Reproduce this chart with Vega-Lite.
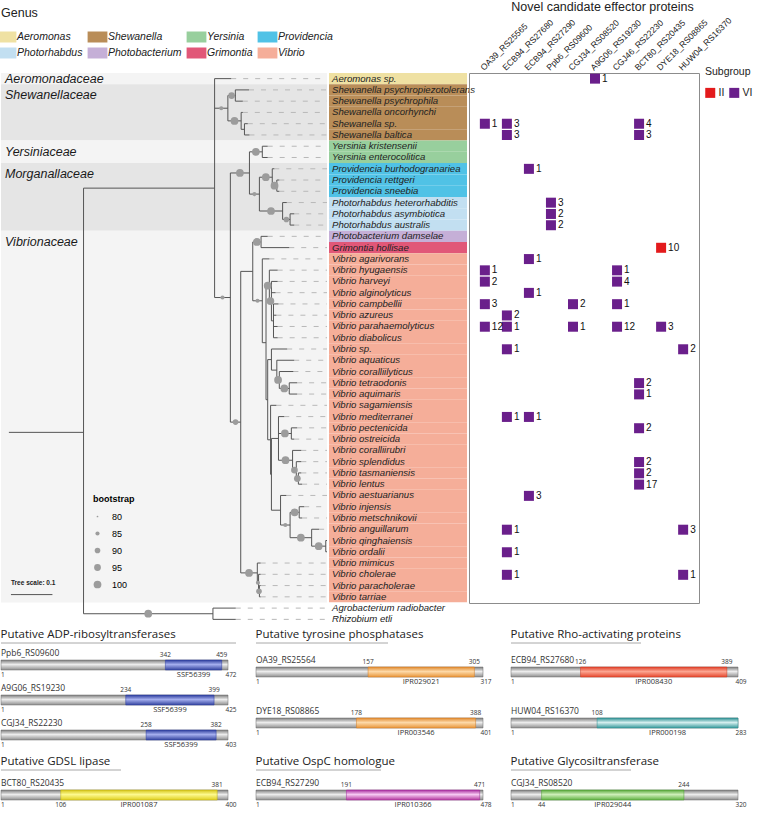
{
"$schema": "https://vega.github.io/schema/vega-lite/v6.json",
"padding": {"left": 0, "top": 0, "right": 0, "bottom": 0},
"config": {"view": {"stroke": null}, "font": "Liberation Sans"},
"datasets": {
"families": [
{"family": "Aeromonadaceae", "top": 0.5, "bottom": 1.5},
{"family": "Shewanellaceae", "top": 1.5, "bottom": 6.5},
{"family": "Yersiniaceae", "top": 6.5, "bottom": 8.5},
{"family": "Morganallaceae", "top": 8.5, "bottom": 14.5},
{"family": "Vibrionaceae", "top": 14.5, "bottom": 47.5}
],
"tree": [
{"name": "Aeromonas sp.", "genus": "Aeromonas", "y": 1, "x": 0.536, "px": 0.496},
{"name": "Shewanella psychropiezotolerans", "genus": "Shewanella", "y": 2, "x": 0.579, "px": 0.546},
{"name": "Shewanella psychrophila", "genus": "Shewanella", "y": 3, "x": 0.564, "px": 0.546},
{"name": "Shewanella oncorhynchi", "genus": "Shewanella", "y": 4, "x": 0.564, "px": 0.560},
{"name": "Shewanella sp.", "genus": "Shewanella", "y": 5, "x": 0.576, "px": 0.568},
{"name": "Shewanella baltica", "genus": "Shewanella", "y": 6, "x": 0.580, "px": 0.568},
{"name": "Yersinia kristensenii", "genus": "Yersinia", "y": 7, "x": 0.624, "px": 0.611},
{"name": "Yersinia enterocolitica", "genus": "Yersinia", "y": 8, "x": 0.624, "px": 0.611},
{"name": "Providencia burhodogranariea", "genus": "Providencia", "y": 9, "x": 0.640, "px": 0.635},
{"name": "Providencia rettgeri", "genus": "Providencia", "y": 10, "x": 0.652, "px": 0.646},
{"name": "Providencia sneebia", "genus": "Providencia", "y": 11, "x": 0.652, "px": 0.646},
{"name": "Photorhabdus heterorhabditis", "genus": "Photorhabdus", "y": 12, "x": 0.670, "px": 0.660},
{"name": "Photorhabdus asymbiotica", "genus": "Photorhabdus", "y": 13, "x": 0.688, "px": 0.678},
{"name": "Photorhabdus australis", "genus": "Photorhabdus", "y": 14, "x": 0.688, "px": 0.678},
{"name": "Photobacterium damselae", "genus": "Photobacterium", "y": 15, "x": 0.624, "px": 0.608},
{"name": "Grimontia hollisae", "genus": "Grimontia", "y": 16, "x": 0.676, "px": 0.608},
{"name": "Vibrio agarivorans", "genus": "Vibrio", "y": 17, "x": 0.628, "px": 0.611},
{"name": "Vibrio hyugaensis", "genus": "Vibrio", "y": 18, "x": 0.648, "px": 0.628},
{"name": "Vibrio harveyi", "genus": "Vibrio", "y": 19, "x": 0.648, "px": 0.633},
{"name": "Vibrio alginolyticus", "genus": "Vibrio", "y": 20, "x": 0.643, "px": 0.633},
{"name": "Vibrio campbellii", "genus": "Vibrio", "y": 21, "x": 0.650, "px": 0.638},
{"name": "Vibrio azureus", "genus": "Vibrio", "y": 22, "x": 0.645, "px": 0.638},
{"name": "Vibrio parahaemolyticus", "genus": "Vibrio", "y": 23, "x": 0.648, "px": 0.638},
{"name": "Vibrio diabolicus", "genus": "Vibrio", "y": 24, "x": 0.648, "px": 0.638},
{"name": "Vibrio sp.", "genus": "Vibrio", "y": 25, "x": 0.671, "px": 0.633},
{"name": "Vibrio aquaticus", "genus": "Vibrio", "y": 26, "x": 0.688, "px": 0.646},
{"name": "Vibrio coralliilyticus", "genus": "Vibrio", "y": 27, "x": 0.686, "px": 0.652},
{"name": "Vibrio tetraodonis", "genus": "Vibrio", "y": 28, "x": 0.695, "px": 0.676},
{"name": "Vibrio aquimaris", "genus": "Vibrio", "y": 29, "x": 0.695, "px": 0.676},
{"name": "Vibrio sagamiensis", "genus": "Vibrio", "y": 30, "x": 0.645, "px": 0.631},
{"name": "Vibrio mediterranei", "genus": "Vibrio", "y": 31, "x": 0.664, "px": 0.650},
{"name": "Vibrio pectenicida", "genus": "Vibrio", "y": 32, "x": 0.695, "px": 0.681},
{"name": "Vibrio ostreicida", "genus": "Vibrio", "y": 33, "x": 0.688, "px": 0.681},
{"name": "Vibrio coralliirubri", "genus": "Vibrio", "y": 34, "x": 0.705, "px": 0.684},
{"name": "Vibrio splendidus", "genus": "Vibrio", "y": 35, "x": 0.705, "px": 0.693},
{"name": "Vibrio tasmaniensis", "genus": "Vibrio", "y": 36, "x": 0.705, "px": 0.698},
{"name": "Vibrio lentus", "genus": "Vibrio", "y": 37, "x": 0.707, "px": 0.698},
{"name": "Vibrio aestuarianus", "genus": "Vibrio", "y": 38, "x": 0.669, "px": 0.655},
{"name": "Vibrio injensis", "genus": "Vibrio", "y": 39, "x": 0.712, "px": 0.700},
{"name": "Vibrio metschnikovii", "genus": "Vibrio", "y": 40, "x": 0.707, "px": 0.700},
{"name": "Vibrio anguillarum", "genus": "Vibrio", "y": 41, "x": 0.748, "px": 0.730},
{"name": "Vibrio qinghaiensis", "genus": "Vibrio", "y": 42, "x": 0.767, "px": 0.764},
{"name": "Vibrio ordalii", "genus": "Vibrio", "y": 43, "x": 0.767, "px": 0.764},
{"name": "Vibrio mimicus", "genus": "Vibrio", "y": 44, "x": 0.607, "px": 0.599},
{"name": "Vibrio cholerae", "genus": "Vibrio", "y": 45, "x": 0.607, "px": 0.602},
{"name": "Vibrio paracholerae", "genus": "Vibrio", "y": 46, "x": 0.607, "px": 0.604},
{"name": "Vibrio tarriae", "genus": "Vibrio", "y": 47, "x": 0.607, "px": 0.604},
{"name": "Agrobacterium radiobacter", "genus": "Agrobacterium", "y": 48, "x": 0.547, "px": 0.492},
{"name": "Rhizobium etli", "genus": "Rhizobium", "y": 49, "x": 0.547, "px": 0.492},
{"node": "R0", "x": 0.180, "px": 0, "y": 32.4, "y1": 10.72, "y2": 48.5},
{"node": "G", "x": 0.496, "px": 0.180, "y": 10.72, "y1": 1, "y2": 20.43},
{"node": "O", "x": 0.492, "px": 0.180, "y": 48.5, "y1": 48, "y2": 49, "bs": 100},
{"node": "S", "x": 0.528, "px": 0.496, "y": 3.625, "y1": 2.5, "y2": 4.75, "bs": 85},
{"node": "SA", "x": 0.546, "px": 0.528, "y": 2.5, "y1": 2, "y2": 3, "bs": 95},
{"node": "SB", "x": 0.560, "px": 0.528, "y": 4.75, "y1": 4, "y2": 5.5, "bs": 100},
{"node": "SB2", "x": 0.568, "px": 0.560, "y": 5.5, "y1": 5, "y2": 6},
{"node": "EV", "x": 0.534, "px": 0.496, "y": 20.43, "y1": 9.375, "y2": 31.49, "bs": 85},
{"node": "E", "x": 0.580, "px": 0.534, "y": 9.375, "y1": 7.5, "y2": 11.25, "bs": 100},
{"node": "Y", "x": 0.611, "px": 0.580, "y": 7.5, "y1": 7, "y2": 8, "bs": 100},
{"node": "M", "x": 0.604, "px": 0.580, "y": 11.25, "y1": 9.75, "y2": 12.75, "bs": 85},
{"node": "P", "x": 0.635, "px": 0.604, "y": 9.75, "y1": 9, "y2": 10.5, "bs": 100},
{"node": "P2", "x": 0.646, "px": 0.635, "y": 10.5, "y1": 10, "y2": 11, "bs": 100},
{"node": "Ph", "x": 0.660, "px": 0.604, "y": 12.75, "y1": 12, "y2": 13.5, "bs": 100},
{"node": "Ph2", "x": 0.678, "px": 0.660, "y": 13.5, "y1": 13, "y2": 14, "bs": 90},
{"node": "V", "x": 0.559, "px": 0.534, "y": 31.49, "y1": 18.11, "y2": 44.875, "bs": 90},
{"node": "VA", "x": 0.588, "px": 0.559, "y": 18.11, "y1": 15.5, "y2": 20.72},
{"node": "PG", "x": 0.608, "px": 0.588, "y": 15.5, "y1": 15, "y2": 16, "bs": 100},
{"node": "VB", "x": 0.611, "px": 0.588, "y": 20.72, "y1": 17, "y2": 24.44, "bs": 85},
{"node": "VC", "x": 0.620, "px": 0.611, "y": 24.44, "y1": 19.375, "y2": 29.5},
{"node": "H", "x": 0.628, "px": 0.620, "y": 19.375, "y1": 18, "y2": 20.75, "bs": 100},
{"node": "H1", "x": 0.633, "px": 0.628, "y": 20.75, "y1": 19, "y2": 22.5, "bs": 100},
{"node": "H3", "x": 0.638, "px": 0.633, "y": 22.5, "y1": 21, "y2": 24},
{"node": "VD", "x": 0.624, "px": 0.620, "y": 29.5, "y1": 25.94, "y2": 33.06},
{"node": "K", "x": 0.633, "px": 0.624, "y": 25.94, "y1": 25, "y2": 26.875},
{"node": "K1", "x": 0.646, "px": 0.633, "y": 26.875, "y1": 26, "y2": 27.75},
{"node": "K2", "x": 0.652, "px": 0.646, "y": 27.75, "y1": 27, "y2": 28.5, "bs": 100},
{"node": "K3", "x": 0.676, "px": 0.652, "y": 28.5, "y1": 28, "y2": 29, "bs": 100},
{"node": "VE", "x": 0.631, "px": 0.624, "y": 33.06, "y1": 30, "y2": 36.125},
{"node": "VF", "x": 0.633, "px": 0.631, "y": 36.125, "y1": 32.94, "y2": 39.31},
{"node": "MS", "x": 0.650, "px": 0.633, "y": 32.94, "y1": 31, "y2": 34.875},
{"node": "PO", "x": 0.681, "px": 0.650, "y": 32.5, "y1": 32, "y2": 33, "bs": 100},
{"node": "SP", "x": 0.684, "px": 0.650, "y": 34.875, "y1": 34, "y2": 35.75, "bs": 100},
{"node": "SP1", "x": 0.693, "px": 0.684, "y": 35.75, "y1": 35, "y2": 36.5, "bs": 95},
{"node": "SP2", "x": 0.698, "px": 0.693, "y": 36.5, "y1": 36, "y2": 37, "bs": 95},
{"node": "AQ", "x": 0.655, "px": 0.633, "y": 39.31, "y1": 38, "y2": 40.625},
{"node": "AQ1", "x": 0.678, "px": 0.655, "y": 40.625, "y1": 39.5, "y2": 41.75, "bs": 85},
{"node": "IM", "x": 0.700, "px": 0.678, "y": 39.5, "y1": 39, "y2": 40, "bs": 100},
{"node": "ANG", "x": 0.730, "px": 0.678, "y": 41.75, "y1": 41, "y2": 42.5, "bs": 100},
{"node": "QO", "x": 0.764, "px": 0.730, "y": 42.5, "y1": 42, "y2": 43, "bs": 100},
{"node": "C", "x": 0.599, "px": 0.559, "y": 44.875, "y1": 44, "y2": 45.75, "bs": 100},
{"node": "C2", "x": 0.602, "px": 0.599, "y": 45.75, "y1": 45, "y2": 46.5, "bs": 85},
{"node": "C3", "x": 0.604, "px": 0.602, "y": 46.5, "y1": 46, "y2": 47, "bs": 90}
],
"matrix": [
{"species": "Aeromonas sp.", "protein": "A9G06_RS19230", "count": 1, "subgroup": "VI"},
{"species": "Shewanella sp.", "protein": "OA39_RS25565", "count": 1, "subgroup": "VI"},
{"species": "Shewanella sp.", "protein": "ECB94_RS27680", "count": 3, "subgroup": "VI"},
{"species": "Shewanella sp.", "protein": "BCT80_RS20435", "count": 4, "subgroup": "VI"},
{"species": "Shewanella baltica", "protein": "ECB94_RS27680", "count": 3, "subgroup": "VI"},
{"species": "Shewanella baltica", "protein": "BCT80_RS20435", "count": 3, "subgroup": "VI"},
{"species": "Providencia burhodogranariea", "protein": "ECB94_RS27290", "count": 1, "subgroup": "VI"},
{"species": "Photorhabdus heterorhabditis", "protein": "Ppb6_RS09600", "count": 3, "subgroup": "VI"},
{"species": "Photorhabdus asymbiotica", "protein": "Ppb6_RS09600", "count": 2, "subgroup": "VI"},
{"species": "Photorhabdus australis", "protein": "Ppb6_RS09600", "count": 2, "subgroup": "VI"},
{"species": "Grimontia hollisae", "protein": "DYE18_RS08865", "count": 10, "subgroup": "II"},
{"species": "Vibrio agarivorans", "protein": "ECB94_RS27290", "count": 1, "subgroup": "VI"},
{"species": "Vibrio hyugaensis", "protein": "OA39_RS25565", "count": 1, "subgroup": "VI"},
{"species": "Vibrio hyugaensis", "protein": "CGJ46_RS22230", "count": 1, "subgroup": "VI"},
{"species": "Vibrio harveyi", "protein": "OA39_RS25565", "count": 2, "subgroup": "VI"},
{"species": "Vibrio harveyi", "protein": "CGJ46_RS22230", "count": 4, "subgroup": "VI"},
{"species": "Vibrio alginolyticus", "protein": "ECB94_RS27290", "count": 1, "subgroup": "VI"},
{"species": "Vibrio campbellii", "protein": "OA39_RS25565", "count": 3, "subgroup": "VI"},
{"species": "Vibrio campbellii", "protein": "CGJ34_RS08520", "count": 2, "subgroup": "VI"},
{"species": "Vibrio campbellii", "protein": "CGJ46_RS22230", "count": 1, "subgroup": "VI"},
{"species": "Vibrio azureus", "protein": "ECB94_RS27680", "count": 2, "subgroup": "VI"},
{"species": "Vibrio parahaemolyticus", "protein": "OA39_RS25565", "count": 12, "subgroup": "VI"},
{"species": "Vibrio parahaemolyticus", "protein": "ECB94_RS27680", "count": 1, "subgroup": "VI"},
{"species": "Vibrio parahaemolyticus", "protein": "CGJ34_RS08520", "count": 1, "subgroup": "VI"},
{"species": "Vibrio parahaemolyticus", "protein": "CGJ46_RS22230", "count": 12, "subgroup": "VI"},
{"species": "Vibrio parahaemolyticus", "protein": "DYE18_RS08865", "count": 3, "subgroup": "VI"},
{"species": "Vibrio sp.", "protein": "ECB94_RS27680", "count": 1, "subgroup": "VI"},
{"species": "Vibrio sp.", "protein": "HUW04_RS16370", "count": 2, "subgroup": "VI"},
{"species": "Vibrio tetraodonis", "protein": "BCT80_RS20435", "count": 2, "subgroup": "VI"},
{"species": "Vibrio aquimaris", "protein": "BCT80_RS20435", "count": 1, "subgroup": "VI"},
{"species": "Vibrio mediterranei", "protein": "ECB94_RS27680", "count": 1, "subgroup": "VI"},
{"species": "Vibrio mediterranei", "protein": "ECB94_RS27290", "count": 1, "subgroup": "VI"},
{"species": "Vibrio pectenicida", "protein": "BCT80_RS20435", "count": 2, "subgroup": "VI"},
{"species": "Vibrio splendidus", "protein": "BCT80_RS20435", "count": 2, "subgroup": "VI"},
{"species": "Vibrio tasmaniensis", "protein": "BCT80_RS20435", "count": 2, "subgroup": "VI"},
{"species": "Vibrio lentus", "protein": "BCT80_RS20435", "count": 17, "subgroup": "VI"},
{"species": "Vibrio aestuarianus", "protein": "ECB94_RS27290", "count": 3, "subgroup": "VI"},
{"species": "Vibrio anguillarum", "protein": "ECB94_RS27680", "count": 1, "subgroup": "VI"},
{"species": "Vibrio anguillarum", "protein": "HUW04_RS16370", "count": 3, "subgroup": "VI"},
{"species": "Vibrio ordalii", "protein": "ECB94_RS27680", "count": 1, "subgroup": "VI"},
{"species": "Vibrio cholerae", "protein": "ECB94_RS27680", "count": 1, "subgroup": "VI"},
{"species": "Vibrio cholerae", "protein": "HUW04_RS16370", "count": 1, "subgroup": "VI"}
]
},
"spacing": 3,
"vconcat": [
{
"hconcat": [
{
"width": 326, "height": 552,
"data": {"name": "tree"},
"layer": [
{"data": {"name": "families"}, "mark": {"type": "rect"},
 "encoding": {"x": {"value": 0}, "x2": {"value": "width"},
  "y": {"field": "top", "type": "quantitative", "scale": {"domain": [0.5, 49.5], "reverse": true, "nice": false, "zero": false}, "axis": null},
  "y2": {"field": "bottom"},
  "fill": {"field": "family", "type": "nominal", "scale": {"domain": ["Aeromonadaceae", "Shewanellaceae", "Yersiniaceae", "Morganallaceae", "Vibrionaceae"], "range": ["#f4f4f4", "#e5e5e5", "#f4f4f4", "#e5e5e5", "#f4f4f4"]}, "legend": null}}},
{"data": {"name": "families"}, "transform": [{"filter": "datum.bottom - datum.top > 1"}],
 "mark": {"type": "text", "align": "left", "baseline": "top", "dx": 4, "dy": 5, "fontSize": 12.5, "fontStyle": "italic", "color": "#1a1a1a"},
 "encoding": {"x": {"value": 0}, "y": {"field": "top", "type": "quantitative"}, "text": {"field": "family", "type": "nominal"}}},
{"data": {"name": "families"}, "transform": [{"filter": "datum.bottom - datum.top <= 1"}],
 "mark": {"type": "text", "align": "left", "baseline": "top", "dx": 4, "dy": 0, "fontSize": 12.5, "fontStyle": "italic", "color": "#1a1a1a"},
 "encoding": {"x": {"value": 0}, "y": {"field": "top", "type": "quantitative"}, "text": {"field": "family", "type": "nominal"}}},
{"transform": [{"filter": "isValid(datum.name)"}],
 "mark": {"type": "rule", "color": "#b8b8b8", "strokeDash": [5, 7], "strokeWidth": 1},
 "encoding": {"x": {"field": "x", "type": "quantitative", "scale": {"domain": [-0.019, 0.767], "nice": false, "zero": false}, "axis": null},
  "x2": {"value": "width"}, "y": {"field": "y", "type": "quantitative"}}},
{"mark": {"type": "rule", "color": "#555555", "strokeWidth": 1},
 "encoding": {"x": {"field": "px", "type": "quantitative"}, "x2": {"field": "x"}, "y": {"field": "y", "type": "quantitative"}}},
{"transform": [{"filter": "isValid(datum.y1)"}],
 "mark": {"type": "rule", "color": "#555555", "strokeWidth": 1},
 "encoding": {"x": {"field": "x", "type": "quantitative"}, "y": {"field": "y1", "type": "quantitative"}, "y2": {"field": "y2"}}},
{"transform": [{"filter": "isValid(datum.bs)"}, {"fold": ["px", "x"], "as": ["end", "pos"]}, {"aggregate": [{"op": "mean", "field": "pos", "as": "mid"}], "groupby": ["node", "y", "bs"]}],
 "mark": {"type": "circle", "color": "#9c9c9c", "opacity": 1},
 "encoding": {"x": {"field": "mid", "type": "quantitative"},
  "y": {"field": "y", "type": "quantitative"},
  "size": {"field": "bs", "type": "quantitative", "scale": {"type": "linear", "domain": [80, 100], "range": [3, 60], "zero": false},
   "legend": {"title": "bootstrap", "values": [80, 85, 90, 95, 100], "type": "symbol", "orient": "none", "legendX": 92, "legendY": 422, "titleFontSize": 9, "titleFontWeight": "bold", "labelFontSize": 9, "symbolFillColor": "#9c9c9c", "symbolStrokeWidth": 0, "symbolType": "circle", "rowPadding": 7, "labelOffset": 10, "titlePadding": 8}}}},
{"data": {"values": [{"label": "Tree scale: 0.1", "from": 0.005, "to": 0.105, "row": 46.8, "labelRow": 45.8}]},
 "mark": {"type": "text", "align": "left", "fontSize": 6.5, "fontWeight": "bold", "color": "#222"},
 "encoding": {"x": {"field": "from", "type": "quantitative"}, "y": {"field": "labelRow", "type": "quantitative"}, "text": {"field": "label", "type": "nominal"}}},
{"data": {"values": [{"label": "Tree scale: 0.1", "from": 0.005, "to": 0.105, "row": 46.8, "labelRow": 45.8}]},
 "mark": {"type": "rule", "color": "#555555", "strokeWidth": 1},
 "encoding": {"x": {"field": "from", "type": "quantitative"}, "x2": {"field": "to"}, "y": {"field": "row", "type": "quantitative"}}}
]
},
{
"width": 138, "height": 552,
"data": {"name": "tree"},
"transform": [{"filter": "isValid(datum.name)"}],
"encoding": {"y": {"field": "name", "type": "nominal", "sort": {"field": "y", "op": "min"}, "scale": {"paddingInner": 0, "paddingOuter": 0}, "axis": null}},
"layer": [
{"mark": {"type": "rect"},
 "encoding": {"x": {"value": 0}, "x2": {"value": "width"},
  "fill": {"field": "genus", "type": "nominal",
   "scale": {"domain": ["Aeromonas", "Shewanella", "Yersinia", "Providencia", "Photorhabdus", "Photobacterium", "Grimontia", "Vibrio", "Agrobacterium", "Rhizobium"],
    "range": ["#efe1a3", "#b98d58", "#98cf9d", "#50c2e6", "#c2dff1", "#c5afd7", "#e15778", "#f5ae99", "#ffffff", "#ffffff"]},
   "legend": {"title": "Genus", "values": ["Aeromonas", "Shewanella", "Yersinia", "Providencia", "Photorhabdus", "Photobacterium", "Grimontia", "Vibrio"],
    "orient": "none", "legendX": -328, "legendY": -66, "columns": 4, "direction": "horizontal",
    "symbolType": "M-1.8,-1H1.8V1H-1.8Z", "symbolSize": 121, "symbolStrokeWidth": 0,
    "labelFontStyle": "italic", "labelFontSize": 10.5, "labelColor": "#222", "titleFontSize": 12.5, "titleFontWeight": "normal", "titleColor": "#222",
    "titlePadding": 12, "rowPadding": 5, "columnPadding": 4, "labelOffset": 5}}}},
{"mark": {"type": "text", "align": "left", "dx": 3, "fontSize": 9.6, "fontStyle": "italic", "color": "#222"},
 "encoding": {"x": {"value": 0}, "text": {"field": "name", "type": "nominal"}}}
]
},
{
"width": 230, "height": 530,
"view": {"stroke": "#8c8c8c", "strokeWidth": 1},
"data": {"name": "matrix"},
"transform": [{"lookup": "species", "from": {"data": {"name": "tree"}, "key": "name", "fields": ["y"]}}],
"layer": [
{"mark": {"type": "square", "size": 100, "opacity": 1},
 "encoding": {
  "x": {"field": "protein", "type": "nominal",
   "scale": {"type": "point", "padding": 0.72, "domain": ["OA39_RS25565", "ECB94_RS27680", "ECB94_RS27290", "Ppb6_RS09600", "CGJ34_RS08520", "A9G06_RS19230", "CGJ46_RS22230", "BCT80_RS20435", "DYE18_RS08865", "HUW04_RS16370"]},
   "axis": {"orient": "top", "title": "Novel candidate effector proteins", "titleFontSize": 12.5, "titleFontWeight": "normal", "titleColor": "#222", "titlePadding": 2, "titleX": 133,
    "labelAngle": -45, "labelFontSize": 8.6, "labelColor": "#222", "labelPadding": 1, "ticks": false, "domain": false}},
  "y": {"field": "y", "type": "quantitative", "scale": {"domain": [0.5, 47.5], "reverse": true, "nice": false, "zero": false}, "axis": null},
  "color": {"field": "subgroup", "type": "nominal", "scale": {"domain": ["II", "VI"], "range": ["#e31a1c", "#6a1f8b"]},
   "legend": {"title": "Subgroup", "orient": "none", "legendX": 236, "legendY": -6, "direction": "horizontal", "symbolType": "square", "symbolSize": 100, "symbolStrokeWidth": 0,
    "titleFontSize": 10.5, "titleFontWeight": "normal", "titleColor": "#222", "labelFontSize": 10.5, "labelColor": "#222", "titlePadding": 10, "columnPadding": 4, "labelOffset": 3}}}},
{"mark": {"type": "text", "align": "left", "dx": 7, "fontSize": 10, "color": "#111"},
 "encoding": {"x": {"field": "protein", "type": "nominal"}, "y": {"field": "y", "type": "quantitative"}, "text": {"field": "count", "type": "quantitative"}}}
]
}
],
"spacing": 2, "bounds": "flush",
"resolve": {"scale": {"color": "independent", "fill": "independent", "size": "independent"}, "legend": {"color": "independent", "fill": "independent", "size": "independent"}}
},
{
"hconcat": [
{"spacing": 7, "vconcat": [
 {"spacing": 5, "vconcat": [
  {"width": 235, "height": 1, "data": {"values": [{"a": 0}]},
   "title": {"text": "Putative ADP-ribosyltransferases", "anchor": "start", "fontSize": 11.5, "font": "Open Sans", "fontWeight": "normal", "color": "#222", "offset": 2},
   "mark": {"type": "rule", "color": "#a8a8a8", "strokeWidth": 1}, "encoding": {"x": {"value": 0}, "x2": {"value": "width"}, "y": {"value": 0}}},
  {"width": 227, "height": 10,
   "data": {"values": [{"protein": "Ppb6_RS09600", "first": 1, "length": 472, "start": 342, "end": 459, "domain": "SSF56399"}]},
   "layer": [
    {"mark": {"type": "rect", "stroke": "#6a6a6a", "strokeWidth": 0.5, "fill": {"gradient": "linear", "x1": 0, "y1": 0, "x2": 0, "y2": 1, "stops": [{"offset": 0, "color": "#7d7d7d"}, {"offset": 0.45, "color": "#ececec"}, {"offset": 1, "color": "#8e8e8e"}]}},
     "encoding": {"x": {"field": "first", "type": "quantitative", "scale": {"zero": false, "nice": false}, "axis": null}, "x2": {"field": "length"}}},
    {"mark": {"type": "rect", "stroke": "#2c3c9c", "strokeWidth": 0.5, "fill": {"gradient": "linear", "x1": 0, "y1": 0, "x2": 0, "y2": 1, "stops": [{"offset": 0, "color": "#2c3c9c"}, {"offset": 0.45, "color": "#a4aeee"}, {"offset": 1, "color": "#34449f"}]}},
     "encoding": {"x": {"field": "start", "type": "quantitative", "axis": null}, "x2": {"field": "end"}}},
    {"mark": {"type": "text", "baseline": "bottom", "align": "left", "dy": -2, "fontSize": 8.5, "font": "Open Sans", "color": "#333"}, "encoding": {"x": {"field": "first", "type": "quantitative", "axis": null}, "y": {"value": 0}, "text": {"field": "protein", "type": "nominal"}}},
    {"mark": {"type": "text", "baseline": "bottom", "dy": -2, "fontSize": 6.5, "font": "Open Sans", "color": "#333"}, "encoding": {"x": {"field": "start", "type": "quantitative", "axis": null}, "y": {"value": 0}, "text": {"field": "start", "type": "quantitative"}}},
    {"mark": {"type": "text", "baseline": "bottom", "dy": -2, "fontSize": 6.5, "font": "Open Sans", "color": "#333"}, "encoding": {"x": {"field": "end", "type": "quantitative", "axis": null}, "y": {"value": 0}, "text": {"field": "end", "type": "quantitative"}}},
    {"mark": {"type": "text", "baseline": "top", "dy": 2, "align": "left", "fontSize": 6.5, "font": "Open Sans", "color": "#333"}, "encoding": {"x": {"field": "first", "type": "quantitative", "axis": null}, "y": {"value": 10}, "text": {"field": "first", "type": "quantitative"}}},
    {"mark": {"type": "text", "baseline": "top", "dy": 2, "dx": 3, "fontSize": 6.5, "font": "Open Sans", "color": "#333"}, "encoding": {"x": {"field": "length", "type": "quantitative", "axis": null}, "y": {"value": 10}, "text": {"field": "length", "type": "quantitative"}}},
    {"transform": [{"fold": ["start", "end"], "as": ["edge", "pos"]}, {"aggregate": [{"op": "mean", "field": "pos", "as": "mid"}], "groupby": ["domain"]}], "mark": {"type": "text", "baseline": "top", "dy": 1, "fontSize": 7.5, "font": "Open Sans", "color": "#333"}, "encoding": {"x": {"field": "mid", "type": "quantitative", "axis": null}, "y": {"value": 10}, "text": {"field": "domain", "type": "nominal"}}}
   ]},
  {"width": 227, "height": 10,
   "data": {"values": [{"protein": "A9G06_RS19230", "first": 1, "length": 425, "start": 234, "end": 399, "domain": "SSF56399"}]},
   "layer": [
    {"mark": {"type": "rect", "stroke": "#6a6a6a", "strokeWidth": 0.5, "fill": {"gradient": "linear", "x1": 0, "y1": 0, "x2": 0, "y2": 1, "stops": [{"offset": 0, "color": "#7d7d7d"}, {"offset": 0.45, "color": "#ececec"}, {"offset": 1, "color": "#8e8e8e"}]}},
     "encoding": {"x": {"field": "first", "type": "quantitative", "scale": {"zero": false, "nice": false}, "axis": null}, "x2": {"field": "length"}}},
    {"mark": {"type": "rect", "stroke": "#2c3c9c", "strokeWidth": 0.5, "fill": {"gradient": "linear", "x1": 0, "y1": 0, "x2": 0, "y2": 1, "stops": [{"offset": 0, "color": "#2c3c9c"}, {"offset": 0.45, "color": "#a4aeee"}, {"offset": 1, "color": "#34449f"}]}},
     "encoding": {"x": {"field": "start", "type": "quantitative", "axis": null}, "x2": {"field": "end"}}},
    {"mark": {"type": "text", "baseline": "bottom", "align": "left", "dy": -2, "fontSize": 8.5, "font": "Open Sans", "color": "#333"}, "encoding": {"x": {"field": "first", "type": "quantitative", "axis": null}, "y": {"value": 0}, "text": {"field": "protein", "type": "nominal"}}},
    {"mark": {"type": "text", "baseline": "bottom", "dy": -2, "fontSize": 6.5, "font": "Open Sans", "color": "#333"}, "encoding": {"x": {"field": "start", "type": "quantitative", "axis": null}, "y": {"value": 0}, "text": {"field": "start", "type": "quantitative"}}},
    {"mark": {"type": "text", "baseline": "bottom", "dy": -2, "fontSize": 6.5, "font": "Open Sans", "color": "#333"}, "encoding": {"x": {"field": "end", "type": "quantitative", "axis": null}, "y": {"value": 0}, "text": {"field": "end", "type": "quantitative"}}},
    {"mark": {"type": "text", "baseline": "top", "dy": 2, "align": "left", "fontSize": 6.5, "font": "Open Sans", "color": "#333"}, "encoding": {"x": {"field": "first", "type": "quantitative", "axis": null}, "y": {"value": 10}, "text": {"field": "first", "type": "quantitative"}}},
    {"mark": {"type": "text", "baseline": "top", "dy": 2, "dx": 3, "fontSize": 6.5, "font": "Open Sans", "color": "#333"}, "encoding": {"x": {"field": "length", "type": "quantitative", "axis": null}, "y": {"value": 10}, "text": {"field": "length", "type": "quantitative"}}},
    {"transform": [{"fold": ["start", "end"], "as": ["edge", "pos"]}, {"aggregate": [{"op": "mean", "field": "pos", "as": "mid"}], "groupby": ["domain"]}], "mark": {"type": "text", "baseline": "top", "dy": 1, "fontSize": 7.5, "font": "Open Sans", "color": "#333"}, "encoding": {"x": {"field": "mid", "type": "quantitative", "axis": null}, "y": {"value": 10}, "text": {"field": "domain", "type": "nominal"}}}
   ]},
  {"width": 227, "height": 10,
   "data": {"values": [{"protein": "CGJ34_RS22230", "first": 1, "length": 403, "start": 258, "end": 382, "domain": "SSF56399"}]},
   "layer": [
    {"mark": {"type": "rect", "stroke": "#6a6a6a", "strokeWidth": 0.5, "fill": {"gradient": "linear", "x1": 0, "y1": 0, "x2": 0, "y2": 1, "stops": [{"offset": 0, "color": "#7d7d7d"}, {"offset": 0.45, "color": "#ececec"}, {"offset": 1, "color": "#8e8e8e"}]}},
     "encoding": {"x": {"field": "first", "type": "quantitative", "scale": {"zero": false, "nice": false}, "axis": null}, "x2": {"field": "length"}}},
    {"mark": {"type": "rect", "stroke": "#2c3c9c", "strokeWidth": 0.5, "fill": {"gradient": "linear", "x1": 0, "y1": 0, "x2": 0, "y2": 1, "stops": [{"offset": 0, "color": "#2c3c9c"}, {"offset": 0.45, "color": "#a4aeee"}, {"offset": 1, "color": "#34449f"}]}},
     "encoding": {"x": {"field": "start", "type": "quantitative", "axis": null}, "x2": {"field": "end"}}},
    {"mark": {"type": "text", "baseline": "bottom", "align": "left", "dy": -2, "fontSize": 8.5, "font": "Open Sans", "color": "#333"}, "encoding": {"x": {"field": "first", "type": "quantitative", "axis": null}, "y": {"value": 0}, "text": {"field": "protein", "type": "nominal"}}},
    {"mark": {"type": "text", "baseline": "bottom", "dy": -2, "fontSize": 6.5, "font": "Open Sans", "color": "#333"}, "encoding": {"x": {"field": "start", "type": "quantitative", "axis": null}, "y": {"value": 0}, "text": {"field": "start", "type": "quantitative"}}},
    {"mark": {"type": "text", "baseline": "bottom", "dy": -2, "fontSize": 6.5, "font": "Open Sans", "color": "#333"}, "encoding": {"x": {"field": "end", "type": "quantitative", "axis": null}, "y": {"value": 0}, "text": {"field": "end", "type": "quantitative"}}},
    {"mark": {"type": "text", "baseline": "top", "dy": 2, "align": "left", "fontSize": 6.5, "font": "Open Sans", "color": "#333"}, "encoding": {"x": {"field": "first", "type": "quantitative", "axis": null}, "y": {"value": 10}, "text": {"field": "first", "type": "quantitative"}}},
    {"mark": {"type": "text", "baseline": "top", "dy": 2, "dx": 3, "fontSize": 6.5, "font": "Open Sans", "color": "#333"}, "encoding": {"x": {"field": "length", "type": "quantitative", "axis": null}, "y": {"value": 10}, "text": {"field": "length", "type": "quantitative"}}},
    {"transform": [{"fold": ["start", "end"], "as": ["edge", "pos"]}, {"aggregate": [{"op": "mean", "field": "pos", "as": "mid"}], "groupby": ["domain"]}], "mark": {"type": "text", "baseline": "top", "dy": 1, "fontSize": 7.5, "font": "Open Sans", "color": "#333"}, "encoding": {"x": {"field": "mid", "type": "quantitative", "axis": null}, "y": {"value": 10}, "text": {"field": "domain", "type": "nominal"}}}
   ]}
 ]},
 {"spacing": 8, "vconcat": [
  {"width": 120, "height": 1, "data": {"values": [{"a": 0}]},
   "title": {"text": "Putative GDSL lipase", "anchor": "start", "fontSize": 11.5, "font": "Open Sans", "fontWeight": "normal", "color": "#222", "offset": 2},
   "mark": {"type": "rule", "color": "#a8a8a8", "strokeWidth": 1}, "encoding": {"x": {"value": 0}, "x2": {"value": "width"}, "y": {"value": 0}}},
  {"width": 227, "height": 10,
   "data": {"values": [{"protein": "BCT80_RS20435", "first": 1, "length": 400, "start": 106, "end": 381, "domain": "IPR001087"}]},
   "layer": [
    {"mark": {"type": "rect", "stroke": "#6a6a6a", "strokeWidth": 0.5, "fill": {"gradient": "linear", "x1": 0, "y1": 0, "x2": 0, "y2": 1, "stops": [{"offset": 0, "color": "#7d7d7d"}, {"offset": 0.45, "color": "#ececec"}, {"offset": 1, "color": "#8e8e8e"}]}},
     "encoding": {"x": {"field": "first", "type": "quantitative", "scale": {"zero": false, "nice": false}, "axis": null}, "x2": {"field": "length"}}},
    {"mark": {"type": "rect", "stroke": "#b9aa10", "strokeWidth": 0.5, "fill": {"gradient": "linear", "x1": 0, "y1": 0, "x2": 0, "y2": 1, "stops": [{"offset": 0, "color": "#d6c618"}, {"offset": 0.45, "color": "#fdf98e"}, {"offset": 1, "color": "#e0d020"}]}},
     "encoding": {"x": {"field": "start", "type": "quantitative", "axis": null}, "x2": {"field": "end"}}},
    {"mark": {"type": "text", "baseline": "bottom", "align": "left", "dy": -2, "fontSize": 8.5, "font": "Open Sans", "color": "#333"}, "encoding": {"x": {"field": "first", "type": "quantitative", "axis": null}, "y": {"value": 0}, "text": {"field": "protein", "type": "nominal"}}},
    {"mark": {"type": "text", "baseline": "top", "dy": 2, "fontSize": 6.5, "font": "Open Sans", "color": "#333"}, "encoding": {"x": {"field": "start", "type": "quantitative", "axis": null}, "y": {"value": 10}, "text": {"field": "start", "type": "quantitative"}}},
    {"mark": {"type": "text", "baseline": "bottom", "dy": -2, "fontSize": 6.5, "font": "Open Sans", "color": "#333"}, "encoding": {"x": {"field": "end", "type": "quantitative", "axis": null}, "y": {"value": 0}, "text": {"field": "end", "type": "quantitative"}}},
    {"mark": {"type": "text", "baseline": "top", "dy": 2, "align": "left", "fontSize": 6.5, "font": "Open Sans", "color": "#333"}, "encoding": {"x": {"field": "first", "type": "quantitative", "axis": null}, "y": {"value": 10}, "text": {"field": "first", "type": "quantitative"}}},
    {"mark": {"type": "text", "baseline": "top", "dy": 2, "dx": 3, "fontSize": 6.5, "font": "Open Sans", "color": "#333"}, "encoding": {"x": {"field": "length", "type": "quantitative", "axis": null}, "y": {"value": 10}, "text": {"field": "length", "type": "quantitative"}}},
    {"transform": [{"fold": ["start", "end"], "as": ["edge", "pos"]}, {"aggregate": [{"op": "mean", "field": "pos", "as": "mid"}], "groupby": ["domain"]}], "mark": {"type": "text", "baseline": "top", "dy": 1, "fontSize": 7.5, "font": "Open Sans", "color": "#333"}, "encoding": {"x": {"field": "mid", "type": "quantitative", "axis": null}, "y": {"value": 10}, "text": {"field": "domain", "type": "nominal"}}}
   ]}
 ]}
]},
{"spacing": 19, "vconcat": [
 {"spacing": 12, "vconcat": [
  {"width": 132, "height": 1, "data": {"values": [{"a": 0}]},
   "title": {"text": "Putative tyrosine phosphatases", "anchor": "start", "fontSize": 11.5, "font": "Open Sans", "fontWeight": "normal", "color": "#222", "offset": 2},
   "mark": {"type": "rule", "color": "#a8a8a8", "strokeWidth": 1}, "encoding": {"x": {"value": 0}, "x2": {"value": "width"}, "y": {"value": 0}}},
  {"spacing": 21, "vconcat": [
   {"width": 227, "height": 10,
    "data": {"values": [{"protein": "OA39_RS25564", "first": 1, "length": 317, "start": 157, "end": 305, "domain": "IPR029021"}]},
    "layer": [
     {"mark": {"type": "rect", "stroke": "#6a6a6a", "strokeWidth": 0.5, "fill": {"gradient": "linear", "x1": 0, "y1": 0, "x2": 0, "y2": 1, "stops": [{"offset": 0, "color": "#7d7d7d"}, {"offset": 0.45, "color": "#ececec"}, {"offset": 1, "color": "#8e8e8e"}]}},
      "encoding": {"x": {"field": "first", "type": "quantitative", "scale": {"zero": false, "nice": false}, "axis": null}, "x2": {"field": "length"}}},
     {"mark": {"type": "rect", "stroke": "#d07a22", "strokeWidth": 0.5, "fill": {"gradient": "linear", "x1": 0, "y1": 0, "x2": 0, "y2": 1, "stops": [{"offset": 0, "color": "#e08a30"}, {"offset": 0.45, "color": "#fdd9a8"}, {"offset": 1, "color": "#e8963a"}]}},
      "encoding": {"x": {"field": "start", "type": "quantitative", "axis": null}, "x2": {"field": "end"}}},
     {"mark": {"type": "text", "baseline": "bottom", "align": "left", "dy": -2, "fontSize": 8.5, "font": "Open Sans", "color": "#333"}, "encoding": {"x": {"field": "first", "type": "quantitative", "axis": null}, "y": {"value": 0}, "text": {"field": "protein", "type": "nominal"}}},
     {"mark": {"type": "text", "baseline": "bottom", "dy": -2, "fontSize": 6.5, "font": "Open Sans", "color": "#333"}, "encoding": {"x": {"field": "start", "type": "quantitative", "axis": null}, "y": {"value": 0}, "text": {"field": "start", "type": "quantitative"}}},
     {"mark": {"type": "text", "baseline": "bottom", "dy": -2, "fontSize": 6.5, "font": "Open Sans", "color": "#333"}, "encoding": {"x": {"field": "end", "type": "quantitative", "axis": null}, "y": {"value": 0}, "text": {"field": "end", "type": "quantitative"}}},
     {"mark": {"type": "text", "baseline": "top", "dy": 2, "align": "left", "fontSize": 6.5, "font": "Open Sans", "color": "#333"}, "encoding": {"x": {"field": "first", "type": "quantitative", "axis": null}, "y": {"value": 10}, "text": {"field": "first", "type": "quantitative"}}},
     {"mark": {"type": "text", "baseline": "top", "dy": 2, "dx": 3, "fontSize": 6.5, "font": "Open Sans", "color": "#333"}, "encoding": {"x": {"field": "length", "type": "quantitative", "axis": null}, "y": {"value": 10}, "text": {"field": "length", "type": "quantitative"}}},
     {"transform": [{"fold": ["start", "end"], "as": ["edge", "pos"]}, {"aggregate": [{"op": "mean", "field": "pos", "as": "mid"}], "groupby": ["domain"]}], "mark": {"type": "text", "baseline": "top", "dy": 1, "fontSize": 7.5, "font": "Open Sans", "color": "#333"}, "encoding": {"x": {"field": "mid", "type": "quantitative", "axis": null}, "y": {"value": 10}, "text": {"field": "domain", "type": "nominal"}}}
    ]},
   {"width": 227, "height": 10,
    "data": {"values": [{"protein": "DYE18_RS08865", "first": 1, "length": 401, "start": 178, "end": 388, "domain": "IPR003546"}]},
    "layer": [
     {"mark": {"type": "rect", "stroke": "#6a6a6a", "strokeWidth": 0.5, "fill": {"gradient": "linear", "x1": 0, "y1": 0, "x2": 0, "y2": 1, "stops": [{"offset": 0, "color": "#7d7d7d"}, {"offset": 0.45, "color": "#ececec"}, {"offset": 1, "color": "#8e8e8e"}]}},
      "encoding": {"x": {"field": "first", "type": "quantitative", "scale": {"zero": false, "nice": false}, "axis": null}, "x2": {"field": "length"}}},
     {"mark": {"type": "rect", "stroke": "#d07a22", "strokeWidth": 0.5, "fill": {"gradient": "linear", "x1": 0, "y1": 0, "x2": 0, "y2": 1, "stops": [{"offset": 0, "color": "#e08a30"}, {"offset": 0.45, "color": "#fdd9a8"}, {"offset": 1, "color": "#e8963a"}]}},
      "encoding": {"x": {"field": "start", "type": "quantitative", "axis": null}, "x2": {"field": "end"}}},
     {"mark": {"type": "text", "baseline": "bottom", "align": "left", "dy": -2, "fontSize": 8.5, "font": "Open Sans", "color": "#333"}, "encoding": {"x": {"field": "first", "type": "quantitative", "axis": null}, "y": {"value": 0}, "text": {"field": "protein", "type": "nominal"}}},
     {"mark": {"type": "text", "baseline": "bottom", "dy": -2, "fontSize": 6.5, "font": "Open Sans", "color": "#333"}, "encoding": {"x": {"field": "start", "type": "quantitative", "axis": null}, "y": {"value": 0}, "text": {"field": "start", "type": "quantitative"}}},
     {"mark": {"type": "text", "baseline": "bottom", "dy": -2, "fontSize": 6.5, "font": "Open Sans", "color": "#333"}, "encoding": {"x": {"field": "end", "type": "quantitative", "axis": null}, "y": {"value": 0}, "text": {"field": "end", "type": "quantitative"}}},
     {"mark": {"type": "text", "baseline": "top", "dy": 2, "align": "left", "fontSize": 6.5, "font": "Open Sans", "color": "#333"}, "encoding": {"x": {"field": "first", "type": "quantitative", "axis": null}, "y": {"value": 10}, "text": {"field": "first", "type": "quantitative"}}},
     {"mark": {"type": "text", "baseline": "top", "dy": 2, "dx": 3, "fontSize": 6.5, "font": "Open Sans", "color": "#333"}, "encoding": {"x": {"field": "length", "type": "quantitative", "axis": null}, "y": {"value": 10}, "text": {"field": "length", "type": "quantitative"}}},
     {"transform": [{"fold": ["start", "end"], "as": ["edge", "pos"]}, {"aggregate": [{"op": "mean", "field": "pos", "as": "mid"}], "groupby": ["domain"]}], "mark": {"type": "text", "baseline": "top", "dy": 1, "fontSize": 7.5, "font": "Open Sans", "color": "#333"}, "encoding": {"x": {"field": "mid", "type": "quantitative", "axis": null}, "y": {"value": 10}, "text": {"field": "domain", "type": "nominal"}}}
    ]}
  ]}
 ]},
 {"spacing": 8, "vconcat": [
  {"width": 125, "height": 1, "data": {"values": [{"a": 0}]},
   "title": {"text": "Putative OspC homologue", "anchor": "start", "fontSize": 11.5, "font": "Open Sans", "fontWeight": "normal", "color": "#222", "offset": 2},
   "mark": {"type": "rule", "color": "#a8a8a8", "strokeWidth": 1}, "encoding": {"x": {"value": 0}, "x2": {"value": "width"}, "y": {"value": 0}}},
  {"width": 227, "height": 10,
   "data": {"values": [{"protein": "ECB94_RS27290", "first": 1, "length": 478, "start": 191, "end": 471, "domain": "IPR010366"}]},
   "layer": [
    {"mark": {"type": "rect", "stroke": "#6a6a6a", "strokeWidth": 0.5, "fill": {"gradient": "linear", "x1": 0, "y1": 0, "x2": 0, "y2": 1, "stops": [{"offset": 0, "color": "#7d7d7d"}, {"offset": 0.45, "color": "#ececec"}, {"offset": 1, "color": "#8e8e8e"}]}},
     "encoding": {"x": {"field": "first", "type": "quantitative", "scale": {"zero": false, "nice": false}, "axis": null}, "x2": {"field": "length"}}},
    {"mark": {"type": "rect", "stroke": "#a0289a", "strokeWidth": 0.5, "fill": {"gradient": "linear", "x1": 0, "y1": 0, "x2": 0, "y2": 1, "stops": [{"offset": 0, "color": "#a82c9e"}, {"offset": 0.45, "color": "#f6c8f2"}, {"offset": 1, "color": "#b4389f"}]}},
     "encoding": {"x": {"field": "start", "type": "quantitative", "axis": null}, "x2": {"field": "end"}}},
    {"mark": {"type": "text", "baseline": "bottom", "align": "left", "dy": -2, "fontSize": 8.5, "font": "Open Sans", "color": "#333"}, "encoding": {"x": {"field": "first", "type": "quantitative", "axis": null}, "y": {"value": 0}, "text": {"field": "protein", "type": "nominal"}}},
    {"mark": {"type": "text", "baseline": "bottom", "dy": -2, "fontSize": 6.5, "font": "Open Sans", "color": "#333"}, "encoding": {"x": {"field": "start", "type": "quantitative", "axis": null}, "y": {"value": 0}, "text": {"field": "start", "type": "quantitative"}}},
    {"mark": {"type": "text", "baseline": "bottom", "dy": -2, "fontSize": 6.5, "font": "Open Sans", "color": "#333"}, "encoding": {"x": {"field": "end", "type": "quantitative", "axis": null}, "y": {"value": 0}, "text": {"field": "end", "type": "quantitative"}}},
    {"mark": {"type": "text", "baseline": "top", "dy": 2, "align": "left", "fontSize": 6.5, "font": "Open Sans", "color": "#333"}, "encoding": {"x": {"field": "first", "type": "quantitative", "axis": null}, "y": {"value": 10}, "text": {"field": "first", "type": "quantitative"}}},
    {"mark": {"type": "text", "baseline": "top", "dy": 2, "dx": 3, "fontSize": 6.5, "font": "Open Sans", "color": "#333"}, "encoding": {"x": {"field": "length", "type": "quantitative", "axis": null}, "y": {"value": 10}, "text": {"field": "length", "type": "quantitative"}}},
    {"transform": [{"fold": ["start", "end"], "as": ["edge", "pos"]}, {"aggregate": [{"op": "mean", "field": "pos", "as": "mid"}], "groupby": ["domain"]}], "mark": {"type": "text", "baseline": "top", "dy": 1, "fontSize": 7.5, "font": "Open Sans", "color": "#333"}, "encoding": {"x": {"field": "mid", "type": "quantitative", "axis": null}, "y": {"value": 10}, "text": {"field": "domain", "type": "nominal"}}}
   ]}
 ]}
]},
{"spacing": 19, "vconcat": [
 {"spacing": 12, "vconcat": [
  {"width": 130, "height": 1, "data": {"values": [{"a": 0}]},
   "title": {"text": "Putative Rho-activating proteins", "anchor": "start", "fontSize": 11.5, "font": "Open Sans", "fontWeight": "normal", "color": "#222", "offset": 2},
   "mark": {"type": "rule", "color": "#a8a8a8", "strokeWidth": 1}, "encoding": {"x": {"value": 0}, "x2": {"value": "width"}, "y": {"value": 0}}},
  {"spacing": 21, "vconcat": [
   {"width": 227, "height": 10,
    "data": {"values": [{"protein": "ECB94_RS27680", "first": 1, "length": 409, "start": 126, "end": 389, "domain": "IPR008430"}]},
    "layer": [
     {"mark": {"type": "rect", "stroke": "#6a6a6a", "strokeWidth": 0.5, "fill": {"gradient": "linear", "x1": 0, "y1": 0, "x2": 0, "y2": 1, "stops": [{"offset": 0, "color": "#7d7d7d"}, {"offset": 0.45, "color": "#ececec"}, {"offset": 1, "color": "#8e8e8e"}]}},
      "encoding": {"x": {"field": "first", "type": "quantitative", "scale": {"zero": false, "nice": false}, "axis": null}, "x2": {"field": "length"}}},
     {"mark": {"type": "rect", "stroke": "#cc3a22", "strokeWidth": 0.5, "fill": {"gradient": "linear", "x1": 0, "y1": 0, "x2": 0, "y2": 1, "stops": [{"offset": 0, "color": "#e04028"}, {"offset": 0.45, "color": "#fca591"}, {"offset": 1, "color": "#e6482e"}]}},
      "encoding": {"x": {"field": "start", "type": "quantitative", "axis": null}, "x2": {"field": "end"}}},
     {"mark": {"type": "text", "baseline": "bottom", "align": "left", "dy": -2, "fontSize": 8.5, "font": "Open Sans", "color": "#333"}, "encoding": {"x": {"field": "first", "type": "quantitative", "axis": null}, "y": {"value": 0}, "text": {"field": "protein", "type": "nominal"}}},
     {"mark": {"type": "text", "baseline": "bottom", "dy": -2, "fontSize": 6.5, "font": "Open Sans", "color": "#333"}, "encoding": {"x": {"field": "start", "type": "quantitative", "axis": null}, "y": {"value": 0}, "text": {"field": "start", "type": "quantitative"}}},
     {"mark": {"type": "text", "baseline": "bottom", "dy": -2, "fontSize": 6.5, "font": "Open Sans", "color": "#333"}, "encoding": {"x": {"field": "end", "type": "quantitative", "axis": null}, "y": {"value": 0}, "text": {"field": "end", "type": "quantitative"}}},
     {"mark": {"type": "text", "baseline": "top", "dy": 2, "align": "left", "fontSize": 6.5, "font": "Open Sans", "color": "#333"}, "encoding": {"x": {"field": "first", "type": "quantitative", "axis": null}, "y": {"value": 10}, "text": {"field": "first", "type": "quantitative"}}},
     {"mark": {"type": "text", "baseline": "top", "dy": 2, "dx": 3, "fontSize": 6.5, "font": "Open Sans", "color": "#333"}, "encoding": {"x": {"field": "length", "type": "quantitative", "axis": null}, "y": {"value": 10}, "text": {"field": "length", "type": "quantitative"}}},
     {"transform": [{"fold": ["start", "end"], "as": ["edge", "pos"]}, {"aggregate": [{"op": "mean", "field": "pos", "as": "mid"}], "groupby": ["domain"]}], "mark": {"type": "text", "baseline": "top", "dy": 1, "fontSize": 7.5, "font": "Open Sans", "color": "#333"}, "encoding": {"x": {"field": "mid", "type": "quantitative", "axis": null}, "y": {"value": 10}, "text": {"field": "domain", "type": "nominal"}}}
    ]},
   {"width": 227, "height": 10,
    "data": {"values": [{"protein": "HUW04_RS16370", "first": 1, "length": 283, "start": 108, "end": 283, "domain": "IPR000198"}]},
    "layer": [
     {"mark": {"type": "rect", "stroke": "#6a6a6a", "strokeWidth": 0.5, "fill": {"gradient": "linear", "x1": 0, "y1": 0, "x2": 0, "y2": 1, "stops": [{"offset": 0, "color": "#7d7d7d"}, {"offset": 0.45, "color": "#ececec"}, {"offset": 1, "color": "#8e8e8e"}]}},
      "encoding": {"x": {"field": "first", "type": "quantitative", "scale": {"zero": false, "nice": false}, "axis": null}, "x2": {"field": "length"}}},
     {"mark": {"type": "rect", "stroke": "#2a8a8c", "strokeWidth": 0.5, "fill": {"gradient": "linear", "x1": 0, "y1": 0, "x2": 0, "y2": 1, "stops": [{"offset": 0, "color": "#2e9092"}, {"offset": 0.45, "color": "#d3eeee"}, {"offset": 1, "color": "#379a9c"}]}},
      "encoding": {"x": {"field": "start", "type": "quantitative", "axis": null}, "x2": {"field": "end"}}},
     {"mark": {"type": "text", "baseline": "bottom", "align": "left", "dy": -2, "fontSize": 8.5, "font": "Open Sans", "color": "#333"}, "encoding": {"x": {"field": "first", "type": "quantitative", "axis": null}, "y": {"value": 0}, "text": {"field": "protein", "type": "nominal"}}},
     {"mark": {"type": "text", "baseline": "bottom", "dy": -2, "fontSize": 6.5, "font": "Open Sans", "color": "#333"}, "encoding": {"x": {"field": "start", "type": "quantitative", "axis": null}, "y": {"value": 0}, "text": {"field": "start", "type": "quantitative"}}},
     {"mark": {"type": "text", "baseline": "top", "dy": 2, "align": "left", "fontSize": 6.5, "font": "Open Sans", "color": "#333"}, "encoding": {"x": {"field": "first", "type": "quantitative", "axis": null}, "y": {"value": 10}, "text": {"field": "first", "type": "quantitative"}}},
     {"mark": {"type": "text", "baseline": "top", "dy": 2, "dx": 3, "fontSize": 6.5, "font": "Open Sans", "color": "#333"}, "encoding": {"x": {"field": "length", "type": "quantitative", "axis": null}, "y": {"value": 10}, "text": {"field": "length", "type": "quantitative"}}},
     {"transform": [{"fold": ["start", "end"], "as": ["edge", "pos"]}, {"aggregate": [{"op": "mean", "field": "pos", "as": "mid"}], "groupby": ["domain"]}], "mark": {"type": "text", "baseline": "top", "dy": 1, "fontSize": 7.5, "font": "Open Sans", "color": "#333"}, "encoding": {"x": {"field": "mid", "type": "quantitative", "axis": null}, "y": {"value": 10}, "text": {"field": "domain", "type": "nominal"}}}
    ]}
  ]}
 ]},
 {"spacing": 8, "vconcat": [
  {"width": 120, "height": 1, "data": {"values": [{"a": 0}]},
   "title": {"text": "Putative Glycosiltransferase", "anchor": "start", "fontSize": 11.5, "font": "Open Sans", "fontWeight": "normal", "color": "#222", "offset": 2},
   "mark": {"type": "rule", "color": "#a8a8a8", "strokeWidth": 1}, "encoding": {"x": {"value": 0}, "x2": {"value": "width"}, "y": {"value": 0}}},
  {"width": 227, "height": 10,
   "data": {"values": [{"protein": "CGJ34_RS08520", "first": 1, "length": 320, "start": 44, "end": 244, "domain": "IPR029044"}]},
   "layer": [
    {"mark": {"type": "rect", "stroke": "#6a6a6a", "strokeWidth": 0.5, "fill": {"gradient": "linear", "x1": 0, "y1": 0, "x2": 0, "y2": 1, "stops": [{"offset": 0, "color": "#7d7d7d"}, {"offset": 0.45, "color": "#ececec"}, {"offset": 1, "color": "#8e8e8e"}]}},
     "encoding": {"x": {"field": "first", "type": "quantitative", "scale": {"zero": false, "nice": false}, "axis": null}, "x2": {"field": "length"}}},
    {"mark": {"type": "rect", "stroke": "#4a9a30", "strokeWidth": 0.5, "fill": {"gradient": "linear", "x1": 0, "y1": 0, "x2": 0, "y2": 1, "stops": [{"offset": 0, "color": "#58a83a"}, {"offset": 0.45, "color": "#cdeeb8"}, {"offset": 1, "color": "#62b244"}]}},
     "encoding": {"x": {"field": "start", "type": "quantitative", "axis": null}, "x2": {"field": "end"}}},
    {"mark": {"type": "text", "baseline": "bottom", "align": "left", "dy": -2, "fontSize": 8.5, "font": "Open Sans", "color": "#333"}, "encoding": {"x": {"field": "first", "type": "quantitative", "axis": null}, "y": {"value": 0}, "text": {"field": "protein", "type": "nominal"}}},
    {"mark": {"type": "text", "baseline": "top", "dy": 2, "fontSize": 6.5, "font": "Open Sans", "color": "#333"}, "encoding": {"x": {"field": "start", "type": "quantitative", "axis": null}, "y": {"value": 10}, "text": {"field": "start", "type": "quantitative"}}},
    {"mark": {"type": "text", "baseline": "bottom", "dy": -2, "fontSize": 6.5, "font": "Open Sans", "color": "#333"}, "encoding": {"x": {"field": "end", "type": "quantitative", "axis": null}, "y": {"value": 0}, "text": {"field": "end", "type": "quantitative"}}},
    {"mark": {"type": "text", "baseline": "top", "dy": 2, "align": "left", "fontSize": 6.5, "font": "Open Sans", "color": "#333"}, "encoding": {"x": {"field": "first", "type": "quantitative", "axis": null}, "y": {"value": 10}, "text": {"field": "first", "type": "quantitative"}}},
    {"mark": {"type": "text", "baseline": "top", "dy": 2, "dx": 3, "fontSize": 6.5, "font": "Open Sans", "color": "#333"}, "encoding": {"x": {"field": "length", "type": "quantitative", "axis": null}, "y": {"value": 10}, "text": {"field": "length", "type": "quantitative"}}},
    {"transform": [{"fold": ["start", "end"], "as": ["edge", "pos"]}, {"aggregate": [{"op": "mean", "field": "pos", "as": "mid"}], "groupby": ["domain"]}], "mark": {"type": "text", "baseline": "top", "dy": 1, "fontSize": 7.5, "font": "Open Sans", "color": "#333"}, "encoding": {"x": {"field": "mid", "type": "quantitative", "axis": null}, "y": {"value": 10}, "text": {"field": "domain", "type": "nominal"}}}
   ]}
 ]}
]}
],
"spacing": 18
}
]
}
